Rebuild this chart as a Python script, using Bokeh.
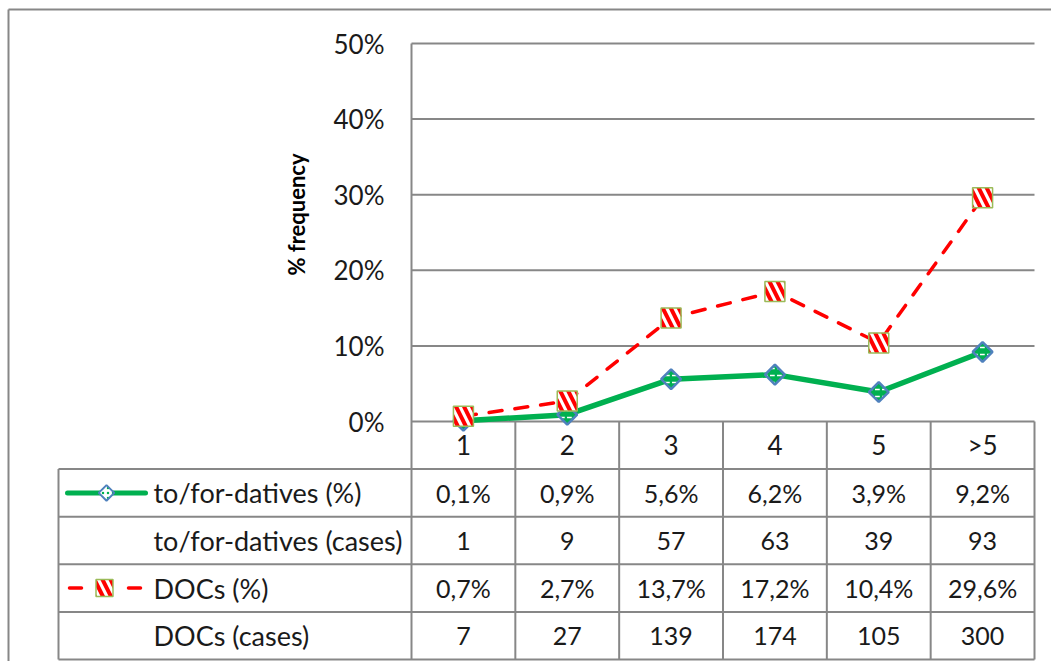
import numpy as np
from bokeh.plotting import figure
from bokeh.models import Range1d, ColumnDataSource
from bokeh.core.properties import value
from bokeh.embed import file_html
from bokeh.resources import INLINE

# ---- data ----
categories = ["1", "2", "3", "4", "5", ">5"]
tofor_pct = [0.1, 0.9, 5.6, 6.2, 3.9, 9.2]
tofor_cases = [1, 9, 57, 63, 39, 93]
docs_pct = [0.7, 2.7, 13.7, 17.2, 10.4, 29.6]
docs_cases = [7, 27, 139, 174, 105, 300]
row_labels = ["to/for-datives (%)", "to/for-datives (cases)", "DOCs (%)", "DOCs (cases)"]
y_ticks = [0, 10, 20, 30, 40, 50]

FONT = "Lato"
GRID = "#878787"
TXT = "#1a1a1a"
GREEN = "#00B050"
RED = "#FF0000"
BLUE = "#4F81BD"
OLIVE = "#9BBB59"

n = len(categories)
xs = list(range(n))

# page-pixel geometry of the Excel-like chart
OFF = 0                     # canvas origin in the picture
PL, PR = 411, 1034          # plot area left/right
P0, P50 = 421, 43           # y pixel of 0% and 50%
colw = (PR - PL) / n
ppu = (P0 - P50) / 50.0     # pixels per percent unit
rowh = (659 - 421) / 5.0 / ppu

def px(xpix):
    return -0.5 + (xpix - PL) / colw

def py(ypix):
    return (P0 - ypix) / ppu

W, H = 1051, 661
p = figure(width=W, height=H, output_backend="svg", toolbar_location=None,
           x_range=Range1d(px(OFF), px(OFF + W)), y_range=Range1d(py(OFF + H), py(OFF)),
           min_border=0, min_border_left=0, min_border_right=0,
           min_border_top=0, min_border_bottom=0)
p.axis.visible = False
p.grid.grid_line_color = None
p.outline_line_color = None

# outer chart border (top & left visible)
p.segment(x0=[px(8), px(8)], y0=[py(9), py(9)], x1=[px(OFF + W), px(8)], y1=[py(9), py(OFF + H)],
          line_color=GRID, line_width=2)

# gridlines
gy = y_ticks[1:]
p.segment(x0=[-0.5] * len(gy), y0=gy, x1=[n - 0.5] * len(gy), y1=gy,
          line_color=GRID, line_width=2)

# y tick labels & axis title
p.text(x=[px(384)] * len(y_ticks), y=y_ticks, text=[f"{v}%" for v in y_ticks],
       text_font=value(FONT), text_font_size="26px", text_color=TXT,
       text_align="right", text_baseline="middle")
p.text(x=[px(296)], y=[py(214)], text=["% frequency"], angle=np.pi / 2,
       text_font=value(FONT), text_font_size="22px", text_font_style="bold",
       text_color="#000000", text_align="center", text_baseline="middle")

# ---- data table lines ----
left = px(58)
row_y = [-rowh * k for k in range(6)]
hx0 = [-0.5] + [left] * 5
p.segment(x0=hx0, y0=row_y, x1=[n - 0.5] * 6, y1=row_y, line_color=GRID, line_width=2)
vx = [i - 0.5 for i in range(n + 1)]
p.segment(x0=vx[:1], y0=[50], x1=vx[:1], y1=[row_y[5]], line_color=GRID, line_width=2)
p.segment(x0=vx[1:], y0=[0] * n, x1=vx[1:], y1=[row_y[5]] * n, line_color=GRID, line_width=2)
p.segment(x0=[left], y0=[row_y[1]], x1=[left], y1=[row_y[5]], line_color=GRID, line_width=2)

# header
p.text(x=xs, y=[-0.5 * rowh] * n, text=categories, text_font=value(FONT), text_font_size="26px",
       text_color=TXT, text_align="center", text_baseline="middle")

def fmt_pct(v):
    return f"{v:.1f}".replace(".", ",") + "%"

rows = [[fmt_pct(v) for v in tofor_pct],
        [str(v) for v in tofor_cases],
        [fmt_pct(v) for v in docs_pct],
        [str(v) for v in docs_cases]]
for r, vals in enumerate(rows):
    p.text(x=xs, y=[-(1.5 + r) * rowh] * n, text=vals, text_font=value(FONT),
           text_font_size="25px", text_color=TXT, text_align="center", text_baseline="middle")

p.text(x=[px(153)] * 4, y=[-(1.5 + r) * rowh for r in range(4)], text=row_labels,
       text_font=value(FONT), text_font_size="27px", text_color=TXT,
       text_align="left", text_baseline="middle")

# ---- series ----
src = ColumnDataSource(dict(x=xs, tofor=tofor_pct, docs=docs_pct))
p.line("x", "tofor", source=src, line_color=GREEN, line_width=5.5, line_join="round")
p.line("x", "docs", source=src, line_color=RED, line_width=3.5, line_dash="13 13",
       line_cap="round")
p.scatter("x", "tofor", source=src, marker="square", angle=np.pi / 4, size=14,
          fill_color=GREEN, line_color=BLUE, line_width=2.5,
          hatch_pattern="horizontal_dash", hatch_color="white", hatch_scale=7, hatch_weight=1.5)
p.scatter("x", "docs", source=src, marker="square", size=20, fill_color="white",
          line_color=OLIVE, line_width=1.5, hatch_pattern="left_diagonal_line",
          hatch_color=RED, hatch_scale=16, hatch_weight=4)

# legend keys inside the table
ly1 = -1.5 * rowh
ly3 = -3.5 * rowh
p.line(x=[px(67), px(145)], y=[ly1, ly1], line_color=GREEN, line_width=5, line_cap="round")
p.scatter(x=[px(106)], y=[ly1], marker="square", angle=np.pi / 4, size=11, fill_color="white",
          line_color=BLUE, line_width=2, hatch_pattern="dot", hatch_color=GREEN,
          hatch_scale=5, hatch_weight=2)
p.segment(x0=[px(69), px(128)], y0=[ly3, ly3], x1=[px(81), px(140)], y1=[ly3, ly3],
          line_color=RED, line_width=3.5, line_cap="round")
p.scatter(x=[px(104)], y=[ly3], marker="square", size=17, fill_color="white",
          line_color=OLIVE, line_width=1.5, hatch_pattern="left_diagonal_line",
          hatch_color=RED, hatch_scale=16, hatch_weight=4)

open("out.html", "w").write(file_html(p, INLINE))
